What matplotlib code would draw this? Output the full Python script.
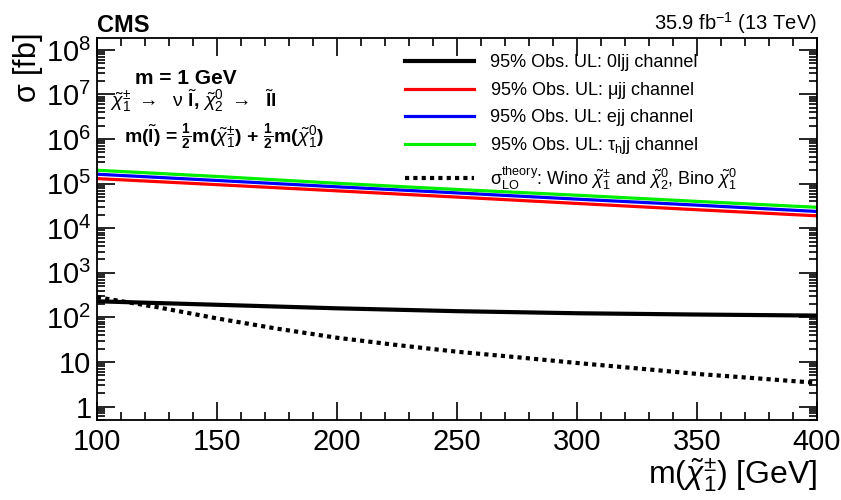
import math
import matplotlib
matplotlib.use("Agg")
import matplotlib.pyplot as plt
from matplotlib.ticker import MultipleLocator, FixedLocator, NullFormatter, FuncFormatter

plt.rcParams['font.family'] = ['Liberation Sans', 'DejaVu Sans']
plt.rcParams['mathtext.fontset'] = 'custom'
plt.rcParams['mathtext.rm'] = 'Liberation Sans'
plt.rcParams['mathtext.it'] = 'Liberation Sans:italic'
plt.rcParams['mathtext.bf'] = 'Liberation Sans:bold'

mass = [100, 150, 200, 250, 300, 350, 400]
ul_0ljj = [230, 192, 160, 138, 124, 116, 110]
ul_mujj = [1.3e5, 9.5e4, 6.9e4, 5.0e4, 3.6e4, 2.6e4, 1.9e4]
ul_ejj = [1.63e5, 1.18e5, 8.5e4, 6.2e4, 4.5e4, 3.3e4, 2.38e4]
ul_taujj = [2.0e5, 1.45e5, 1.02e5, 7.4e4, 5.5e4, 4.0e4, 2.95e4]

mass_theory = [100, 125, 150, 175, 200, 225, 250, 275, 300, 325, 350, 375, 400]
sigma_theory = [285, 170, 95, 56, 35, 24, 17, 12.8, 9.5, 7.2, 5.4, 4.3, 3.4]

y_major_exps = [0, 1, 2, 3, 4, 5, 6, 7, 8]

labels = [
    "95% Obs. UL: 0ljj channel",
    "95% Obs. UL: $\\mathrm{\\mu}$jj channel",
    "95% Obs. UL: ejj channel",
    "95% Obs. UL: $\\mathrm{\\tau}_{\\mathrm{h}}$jj channel",
    "$\\mathrm{\\sigma}_{\\mathrm{LO}}^{\\mathrm{theory}}$: Wino $\\tilde{\\chi}_1^{\\pm}$ and $\\tilde{\\chi}_2^{0}$, Bino $\\tilde{\\chi}_1^{0}$",
]

fig = plt.figure(figsize=(8.41, 5), dpi=100)
ax = fig.add_axes([0.1153, 0.16, 0.8562, 0.764])

ax.plot(mass, ul_0ljj, color='black', lw=3, label=labels[0])
ax.plot(mass, ul_mujj, color='#ff0000', lw=2.3, label=labels[1])
ax.plot(mass, ul_ejj, color='#0000ff', lw=2.3, label=labels[2])
ax.plot(mass, ul_taujj, color='#00ee00', lw=2.3, label=labels[3])
ax.plot(mass_theory, sigma_theory, color='black', lw=3, ls=(0, (1, 1)), label=labels[4])

ax.set_yscale('log')
ax.set_xlim(100, 400)
ax.set_ylim(0.5, 1.85e8)

ax.xaxis.set_major_locator(MultipleLocator(50))
ax.xaxis.set_minor_locator(MultipleLocator(10))
ax.yaxis.set_major_locator(FixedLocator([10.0 ** e for e in y_major_exps]))
minor_vals = [m * 10.0 ** e for e in range(-1, 9) for m in range(2, 10)]
minor_vals = [v for v in minor_vals if 0.5 <= v <= 1.85e8]
ax.yaxis.set_minor_locator(FixedLocator(minor_vals))
ax.yaxis.set_minor_formatter(NullFormatter())

def yfmt(v, pos):
    e = int(round(math.log10(v)))
    if e == 0:
        return "1"
    if e == 1:
        return "10"
    return "10$^{%d}$" % e
ax.yaxis.set_major_formatter(FuncFormatter(yfmt))

ax.tick_params(which='both', direction='in', top=True, right=True, labelsize=21, width=1.2, colors='black')
ax.tick_params(which='major', length=13)
ax.tick_params(which='minor', length=6)
ax.tick_params(axis='x', pad=6)
ax.tick_params(axis='y', pad=4)
for s in ax.spines.values():
    s.set_linewidth(1.3)

ax.set_xlabel("m($\\tilde{\\chi}_1^{\\pm}$) [GeV]", fontsize=23, loc='right', labelpad=0)
ax.set_ylabel("$\\mathrm{\\sigma}$ [fb]", fontsize=22, loc='top')
ax.yaxis.set_label_coords(-0.072, 1.012)

fig.text(0.1153, 0.936, "CMS", fontsize=17, fontweight='bold', ha='left', va='baseline')
fig.text(0.9715, 0.94, "35.9 fb$^{-1}$ (13 TeV)", fontsize=14.5, ha='right', va='baseline')

ax.text(0.053, 0.895, "m = 1 GeV", transform=ax.transAxes, fontsize=15, fontweight='bold', va='center')
ax.text(0.018, 0.836, "$\\tilde{\\chi}_1^{\\pm}$ $\\rightarrow$  $\\mathrm{\\nu}$ $\\tilde{\\mathbf{l}}$, $\\tilde{\\chi}_2^{0}$ $\\rightarrow$  $\\tilde{\\mathbf{l}}$l",
        transform=ax.transAxes, fontsize=14, fontweight='bold', va='center')
ax.text(0.0375, 0.741, "m($\\tilde{\\mathbf{l}}$) = $\\mathbf{\\frac{1}{2}}$m($\\tilde{\\chi}_1^{\\pm}$) + $\\mathbf{\\frac{1}{2}}$m($\\tilde{\\chi}_1^{0}$)",
        transform=ax.transAxes, fontsize=14, fontweight='bold', va='center')

leg = ax.legend(loc='upper left', bbox_to_anchor=(0.428, 0.957), frameon=False, fontsize=13,
                handlelength=3.8, handletextpad=0.9, labelspacing=0.47, borderpad=0.0,
                borderaxespad=0.0)

fig.savefig("out.png", dpi=100)
